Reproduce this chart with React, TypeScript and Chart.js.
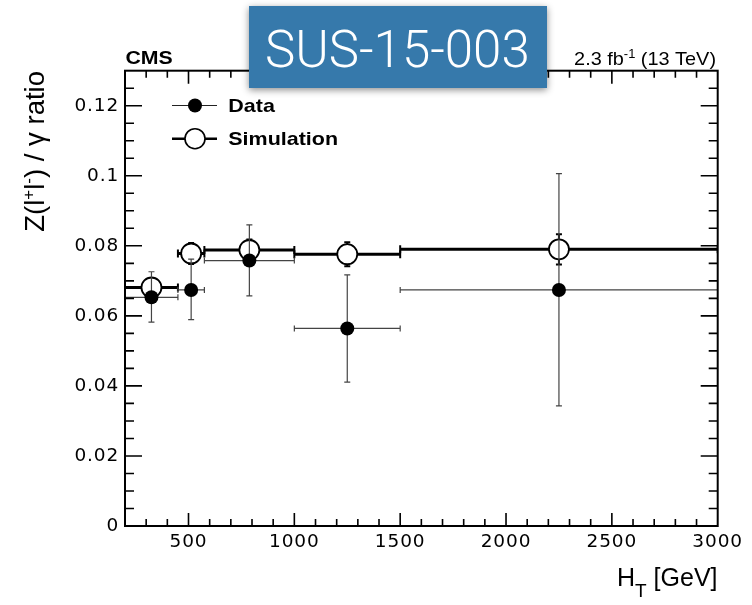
import React, { useEffect, useRef } from "react";
import { Chart, registerables } from "chart.js";

Chart.register(...registerables);

// ---- data ----
const binLow = [200, 450, 575, 1000, 1500];
const binHigh = [450, 575, 1000, 1500, 3000];
const binCenter = [325, 512.5, 787.5, 1250, 2250];
const dataValues = [0.0653, 0.0674, 0.0758, 0.0564, 0.0674];
const dataErrUp = [0.0073, 0.0088, 0.0102, 0.0153, 0.0332];
const dataErrDown = [0.0071, 0.0085, 0.0101, 0.0153, 0.0331];
const simValues = [0.0681, 0.0778, 0.0788, 0.0776, 0.079];
const simErr = [0.0022, 0.003, 0.003, 0.0034, 0.0043];
const xTickValues = [500, 1000, 1500, 2000, 2500, 3000];
const yTickValues = [0, 0.02, 0.04, 0.06, 0.08, 0.1, 0.12];
const xRange = [200, 3000];
const yRange = [0, 0.13];

const SANS = "'Liberation Sans', Arial, Helvetica, sans-serif";
const TICKFONT = "'DejaVu Sans', 'Liberation Sans', sans-serif";

type Piece = { t: string; font: string; dy?: number; ls?: number };

function drawPieces(
  ctx: CanvasRenderingContext2D,
  pieces: Piece[],
  x: number,
  y: number,
  align: "left" | "right",
  sx = 1
) {
  ctx.save();
  ctx.textAlign = "left";
  ctx.textBaseline = "alphabetic";
  const widths = pieces.map((p) => {
    ctx.font = p.font;
    (ctx as any).letterSpacing = (p.ls || 0) + "px";
    return ctx.measureText(p.t).width;
  });
  const total = widths.reduce((a, b) => a + b, 0) * sx;
  const startX = align === "right" ? x - total : x;
  ctx.translate(startX, y);
  ctx.scale(sx, 1);
  let cx = 0;
  pieces.forEach((p, i) => {
    ctx.font = p.font;
    (ctx as any).letterSpacing = (p.ls || 0) + "px";
    ctx.fillText(p.t, cx, p.dy || 0);
    cx += widths[i];
  });
  ctx.restore();
}

const rootStylePlugin = {
  id: "rootStyle",
  beforeDraw(chart: any) {
    (chart.ctx as any).letterSpacing = "0.9px";
  },
  beforeDatasetsDraw(chart: any) {
    (chart.ctx as any).letterSpacing = "0px";
  },
  beforeDatasetDraw(chart: any, args: any) {
    const ctx: CanvasRenderingContext2D = chart.ctx;
    const xs = chart.scales.x;
    const ys = chart.scales.y;
    const ca = chart.chartArea;
    ctx.save();
    ctx.beginPath();
    ctx.rect(ca.left, ca.top, ca.right - ca.left, ca.bottom - ca.top);
    ctx.clip();
    if (args.index === 1) {
      // simulation: thick horizontal bin lines + small vertical errors
      ctx.strokeStyle = "#000";
      for (let i = 0; i < simValues.length; i++) {
        const x0 = xs.getPixelForValue(binLow[i]);
        const x1 = xs.getPixelForValue(binHigh[i]);
        const xc = xs.getPixelForValue(binCenter[i]);
        const y = ys.getPixelForValue(simValues[i]);
        const yt = ys.getPixelForValue(simValues[i] + simErr[i]);
        const yb = ys.getPixelForValue(simValues[i] - simErr[i]);
        ctx.lineWidth = 3;
        ctx.beginPath();
        ctx.moveTo(x0, y);
        ctx.lineTo(x1, y);
        ctx.stroke();
        ctx.lineWidth = 2;
        ctx.beginPath();
        ctx.moveTo(x0, y - 4);
        ctx.lineTo(x0, y + 4);
        ctx.moveTo(x1, y - 4);
        ctx.lineTo(x1, y + 4);
        ctx.moveTo(xc, yt);
        ctx.lineTo(xc, yb);
        ctx.moveTo(xc - 3, yt);
        ctx.lineTo(xc + 3, yt);
        ctx.moveTo(xc - 3, yb);
        ctx.lineTo(xc + 3, yb);
        ctx.stroke();
      }
    } else if (args.index === 0) {
      ctx.strokeStyle = "#444";
      ctx.lineWidth = 1.2;
      for (let i = 0; i < dataValues.length; i++) {
        const x0 = xs.getPixelForValue(binLow[i]);
        const x1 = xs.getPixelForValue(binHigh[i]);
        const xc = xs.getPixelForValue(binCenter[i]);
        const y = ys.getPixelForValue(dataValues[i]);
        const yt = ys.getPixelForValue(dataValues[i] + dataErrUp[i]);
        const yb = ys.getPixelForValue(dataValues[i] - dataErrDown[i]);
        ctx.beginPath();
        ctx.moveTo(x0, y);
        ctx.lineTo(x1, y);
        ctx.moveTo(x0, y - 3);
        ctx.lineTo(x0, y + 3);
        ctx.moveTo(x1, y - 3);
        ctx.lineTo(x1, y + 3);
        ctx.moveTo(xc, yt);
        ctx.lineTo(xc, yb);
        ctx.moveTo(xc - 3, yt);
        ctx.lineTo(xc + 3, yt);
        ctx.moveTo(xc - 3, yb);
        ctx.lineTo(xc + 3, yb);
        ctx.stroke();
      }
    }
    ctx.restore();
  },
  afterDatasetsDraw(chart: any) {
    const ctx: CanvasRenderingContext2D = chart.ctx;
    const xs = chart.scales.x;
    const ys = chart.scales.y;
    const { left, right, top, bottom } = chart.chartArea;
    ctx.save();
    ctx.strokeStyle = "#000";
    // minor / major ticks, inward, on all four sides
    ctx.lineWidth = 1.6;
    for (let v = 300; v < 3000; v += 100) {
      const major = v % 500 === 0;
      const len = major ? 13 : 7;
      const px = xs.getPixelForValue(v);
      ctx.beginPath();
      ctx.moveTo(px, bottom);
      ctx.lineTo(px, bottom - len);
      ctx.moveTo(px, top);
      ctx.lineTo(px, top + len);
      ctx.stroke();
    }
    for (let k = 1; k < 26; k++) {
      const v = k * 0.005;
      const major = k % 4 === 0;
      const len = major ? 17 : 9;
      const py = ys.getPixelForValue(v);
      ctx.beginPath();
      ctx.moveTo(left, py);
      ctx.lineTo(left + len, py);
      ctx.moveTo(right, py);
      ctx.lineTo(right - len, py);
      ctx.stroke();
    }
    ctx.lineWidth = 2;
    ctx.strokeRect(left, top, right - left, bottom - top);
    ctx.restore();
  },
  afterDraw(chart: any) {
    const ctx: CanvasRenderingContext2D = chart.ctx;
    (ctx as any).letterSpacing = "0px";
    ctx.save();
    ctx.fillStyle = "#000";
    // CMS label & luminosity
    drawPieces(ctx, [{ t: "CMS", font: `bold 18.5px ${SANS}` }], 125.5, 63.5, "left", 1.15);
    drawPieces(
      ctx,
      [
        { t: "2.3 fb", font: `18.5px ${SANS}` },
        { t: "-1", font: `12px ${SANS}`, dy: -7 },
        { t: " (13 TeV)", font: `18.5px ${SANS}` },
      ],
      716,
      64.5,
      "right",
      1.075
    );

    // Legend
    ctx.strokeStyle = "#222";
    ctx.lineWidth = 1.2;
    ctx.beginPath();
    ctx.moveTo(172, 105.5);
    ctx.lineTo(217, 105.5);
    ctx.stroke();
    ctx.fillStyle = "#000";
    ctx.beginPath();
    ctx.arc(195, 105.5, 7, 0, Math.PI * 2);
    ctx.fill();
    ctx.strokeStyle = "#000";
    ctx.lineWidth = 2.5;
    ctx.beginPath();
    ctx.moveTo(172, 138.7);
    ctx.lineTo(217, 138.7);
    ctx.stroke();
    ctx.fillStyle = "#fff";
    ctx.lineWidth = 1.6;
    ctx.beginPath();
    ctx.arc(195, 138.7, 10, 0, Math.PI * 2);
    ctx.fill();
    ctx.stroke();
    ctx.fillStyle = "#000";
    drawPieces(ctx, [{ t: "Data", font: `bold 18.5px ${SANS}` }], 228.3, 111.8, "left", 1.16);
    drawPieces(ctx, [{ t: "Simulation", font: `bold 18.5px ${SANS}` }], 228.3, 144.5, "left", 1.16);

    // X title
    drawPieces(
      ctx,
      [
        { t: "H", font: `25px ${SANS}` },
        { t: "T", font: `19px ${SANS}`, dy: 10.5 },
        { t: " [GeV]", font: `25px ${SANS}` },
      ],
      717.5,
      586,
      "right"
    );

    // Y title (rotated)
    ctx.save();
    ctx.translate(44, 71);
    ctx.rotate(-Math.PI / 2);
    drawPieces(
      ctx,
      [
        { t: "Z(l", font: `27.5px ${SANS}` },
        { t: "+", font: `17px ${SANS}`, dy: -10.5 },
        { t: "l", font: `27.5px ${SANS}` },
        { t: "-", font: `17px ${SANS}`, dy: -10.5 },
        { t: ") / ", font: `27.5px ${SANS}` },
        { t: "γ", font: `27.5px ${SANS}` },
        { t: " ratio", font: `27.5px ${SANS}` },
      ],
      0,
      0,
      "right"
    );
    ctx.restore();

    // Blue tag box
    ctx.save();
    ctx.shadowColor = "rgba(0,0,0,0.45)";
    ctx.shadowBlur = 7;
    ctx.shadowOffsetY = 2;
    ctx.fillStyle = "#3679ab";
    ctx.fillRect(249, 6, 298, 82);
    ctx.restore();
    ctx.fillStyle = "#ffffff";
    drawPieces(ctx, [{ t: "SUS-15-003", font: `300 51px Roboto, ${SANS}` }], 265, 66.5, "left");
    ctx.restore();
  },
};

export default function App() {
  const ref = useRef<HTMLCanvasElement | null>(null);
  useEffect(() => {
    if (!ref.current) return;
    const chart = new Chart(ref.current, {
      type: "scatter",
      data: {
        datasets: [
          {
            label: "Data",
            data: binCenter.map((x, i) => ({ x, y: dataValues[i] })),
            pointRadius: 7,
            pointBackgroundColor: "#000",
            pointBorderWidth: 0,
            showLine: false,
          },
          {
            label: "Simulation",
            data: binCenter.map((x, i) => ({ x, y: simValues[i] })),
            pointRadius: 10,
            pointBackgroundColor: "#fff",
            pointBorderColor: "#000",
            pointBorderWidth: 1.8,
            showLine: false,
          },
        ],
      },
      options: {
        responsive: false,
        maintainAspectRatio: false,
        animation: false,
        events: [],
        layout: { padding: { left: 0, top: 70.7, right: 34.3, bottom: 0 } },
        plugins: { legend: { display: false }, tooltip: { enabled: false } },
        scales: {
          x: {
            type: "linear",
            position: "bottom",
            min: xRange[0],
            max: xRange[1],
            grid: { display: false, drawTicks: false, tickLength: 0 },
            border: { display: false },
            afterBuildTicks: (s: any) => {
              s.ticks = xTickValues.map((v) => ({ value: v }));
            },
            afterFit: (s: any) => {
              s.height = 79;
            },
            ticks: {
              color: "#000",
              padding: 5.4,
              maxRotation: 0,
              autoSkip: false,
              font: { family: TICKFONT, size: 18.5 },
              callback: (v: any) => String(v),
            },
          },
          y: {
            type: "linear",
            min: yRange[0],
            max: yRange[1],
            grid: { display: false, drawTicks: false, tickLength: 0 },
            border: { display: false },
            afterBuildTicks: (s: any) => {
              s.ticks = yTickValues.map((v) => ({ value: v }));
            },
            afterFit: (s: any) => {
              s.width = 125;
            },
            ticks: {
              color: "#000",
              padding: 5.8,
              autoSkip: false,
              font: { family: TICKFONT, size: 18.5 },
              callback: (v: any) => String(Number(Number(v).toFixed(3))),
            },
          },
        },
      },
      plugins: [rootStylePlugin],
    } as any);
    return () => chart.destroy();
  }, []);
  return (
    <div style={{ position: "fixed", left: 0, top: 0, width: 752, height: 605, background: "#fff" }}>
      <canvas ref={ref} width={752} height={605} style={{ display: "block" }} />
    </div>
  );
}
